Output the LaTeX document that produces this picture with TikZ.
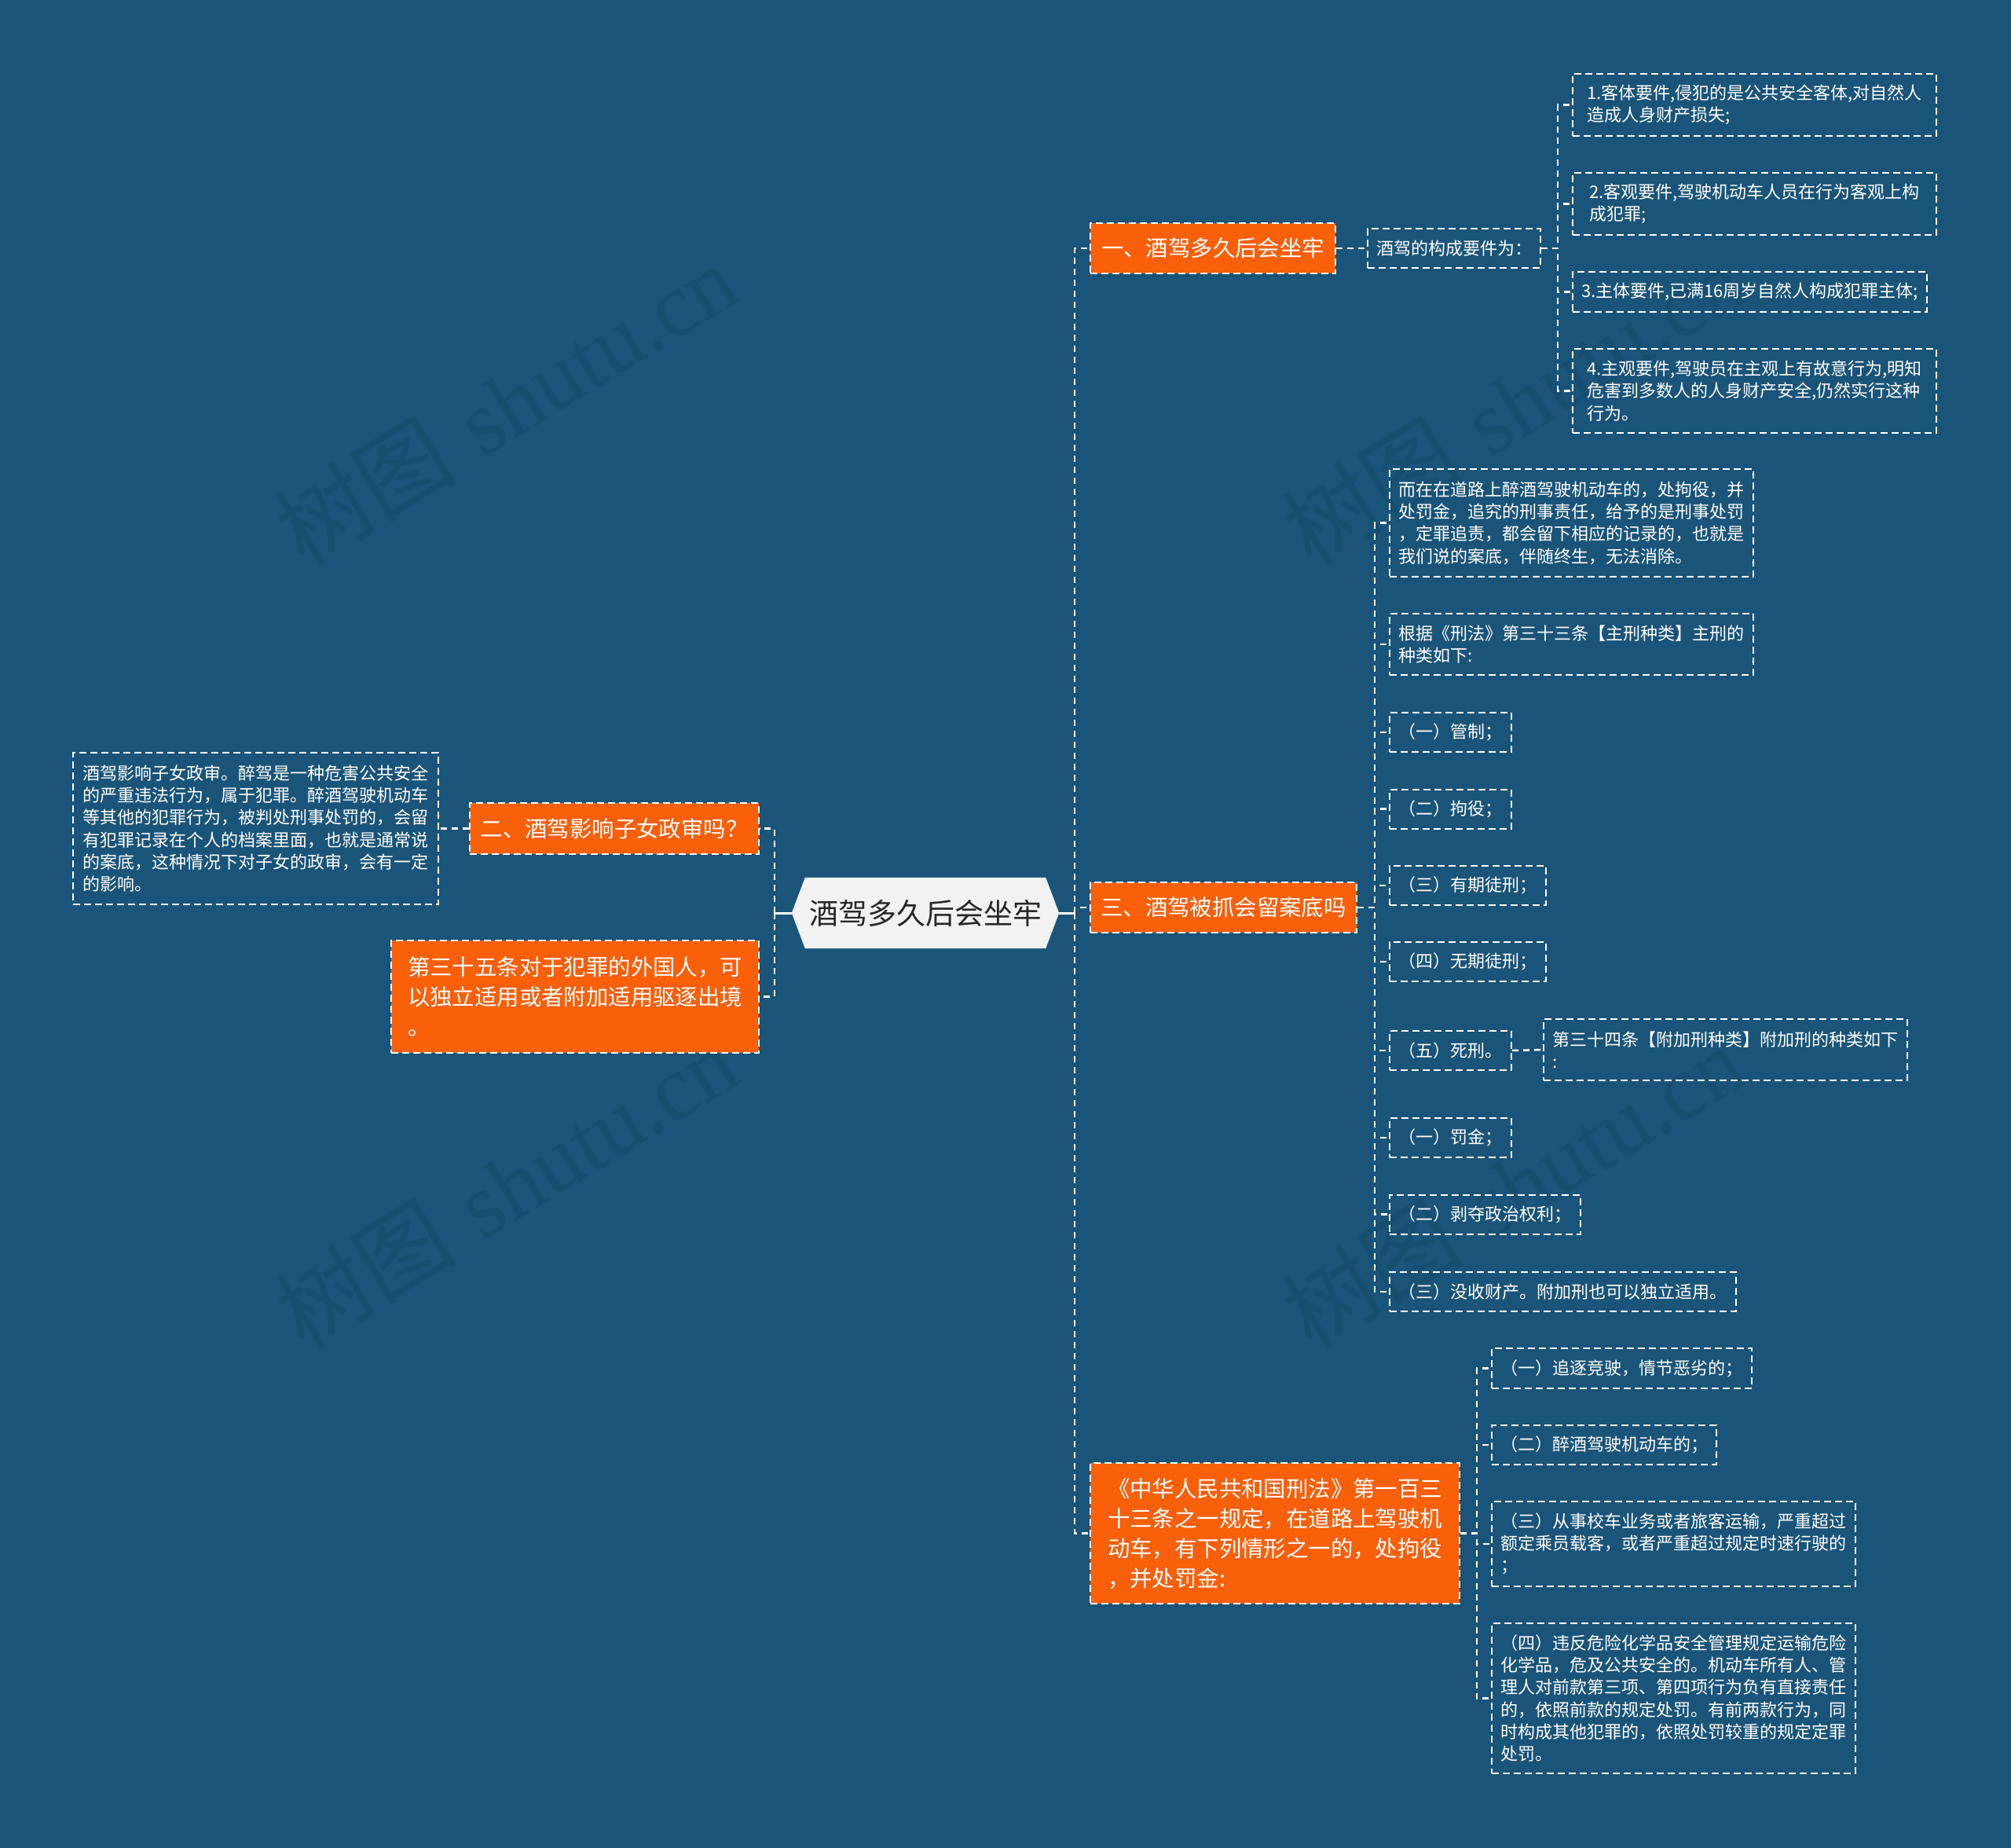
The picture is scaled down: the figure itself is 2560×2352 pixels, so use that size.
\documentclass[tikz,border=0pt]{standalone}
\usepackage{fontspec}
\newfontfamily\cjk{Noto Sans CJK SC}
\newfontfamily\wmserif{Liberation Serif}
\newcommand\leaffont{\cjk\fontsize{22}{28.3}\selectfont}
\newcommand\branchfont{\cjk\fontsize{28.4}{38}\selectfont}
\newcommand\rootfont{\cjk\fontsize{37}{44}\selectfont}
\newcommand\wmfont{\fontsize{116}{120}\selectfont}
\definecolor{bgc}{RGB}{26,84,120}
\definecolor{orc}{RGB}{250,95,10}
\definecolor{hexc}{RGB}{242,242,242}
\definecolor{roottext}{RGB}{38,38,38}
\definecolor{wmc}{RGB}{23,79,113}
\pgfdeclarelayer{bg}
\pgfsetlayers{bg,main}
\tikzset{
  box/.style={draw=white, line width=2pt, dash pattern=on 9pt off 5pt, align=left, inner sep=0pt},
  leafbox/.style={box, text=white, font=\leaffont},
  orangebox/.style={box, fill=orc, text=white, font=\branchfont},
  rootnode/.style={minimum width=340pt, minimum height=90pt, inner sep=0pt, font=\rootfont, text=roottext},
  conn/.style={draw=white, line width=2.5pt, dash pattern=on 8pt off 6pt},
  rootline/.style={draw=white, line width=3pt},
  wm/.style={rotate=31.5, text=wmc, font=\wmfont, inner sep=0pt}
}
\begin{document}
\begin{tikzpicture}[x=1pt, y=-1pt]
\useasboundingbox (0,0) rectangle (2560,2352);
\clip (0,0) rectangle (2560,2352);
\begin{pgfonlayer}{bg}
  \fill[bgc] (0,0) rectangle (2560,2352);
  \node[wm] (wm1) at (644,514) {{\cjk 树图} {\wmserif shutu.cn}};
  \node[wm] (wm2) at (1926,514) {{\cjk 树图} {\wmserif shutu.cn}};
  \node[wm] (wm3) at (644,1510) {{\cjk 树图} {\wmserif shutu.cn}};
  \node[wm] (wm4) at (1926,1510) {{\cjk 树图} {\wmserif shutu.cn}};
\end{pgfonlayer}

% root
\node[rootnode] (root) at (1178,1162) {酒驾多久后会坐牢};
\begin{pgfonlayer}{bg}
  \fill[hexc] (root.west) -- ([xshift=17pt]root.north west) -- ([xshift=-17pt]root.north east)
    -- (root.east) -- ([xshift=-17pt]root.south east) -- ([xshift=17pt]root.south west) -- cycle;
\end{pgfonlayer}

% branch 1
\node[orangebox, minimum width=312pt, minimum height=64pt] (b1) at (1544,316) {一、酒驾多久后会坐牢};
\node[leafbox, minimum width=220pt, minimum height=50pt] (b1a) at (1851,316) {酒驾的构成要件为：};
\node[leafbox, minimum width=463pt, minimum height=79pt] (l1) at (2233.5,133.5) {1.客体要件,侵犯的是公共安全客体,对自然人\\造成人身财产损失;};
\node[leafbox, minimum width=463pt, minimum height=79pt] (l2) at (2233.5,259.5) {2.客观要件,驾驶机动车人员在行为客观上构\\成犯罪;};
\node[leafbox, minimum width=451pt, minimum height=51pt] (l3) at (2227.5,371.5) {3.主体要件,已满16周岁自然人构成犯罪主体;};
\node[leafbox, minimum width=463pt, minimum height=107pt] (l4) at (2233.5,497.5) {4.主观要件,驾驶员在主观上有故意行为,明知\\危害到多数人的人身财产安全,仍然实行这种\\行为。};

% branch 3
\node[orangebox, minimum width=339pt, minimum height=64pt] (b3) at (1557.5,1155) {三、酒驾被抓会留案底吗};
\node[leafbox, minimum width=463pt, minimum height=137pt] (m1) at (2000.5,665.5) {而在在道路上醉酒驾驶机动车的，处拘役，并\\处罚金，追究的刑事责任，给予的是刑事处罚\\，定罪追责，都会留下相应的记录的，也就是\\我们说的案底，伴随终生，无法消除。};
\node[leafbox, minimum width=463pt, minimum height=78pt] (m2) at (2000.5,820) {根据《刑法》第三十三条【主刑种类】主刑的\\种类如下:};
\node[leafbox, minimum width=155pt, minimum height=50pt] (m3) at (1846.5,932) {（一）管制；};
\node[leafbox, minimum width=155pt, minimum height=50pt] (m4) at (1846.5,1029.5) {（二）拘役；};
\node[leafbox, minimum width=199pt, minimum height=50pt] (m5) at (1868.5,1127) {（三）有期徒刑；};
\node[leafbox, minimum width=199pt, minimum height=50pt] (m6) at (1868.5,1224) {（四）无期徒刑；};
\node[leafbox, minimum width=155pt, minimum height=50pt] (m7) at (1846.5,1337) {（五）死刑。};
\node[leafbox, minimum width=463pt, minimum height=78pt] (m7a) at (2196.5,1336) {第三十四条【附加刑种类】附加刑的种类如下\\:};
\node[leafbox, minimum width=155pt, minimum height=50pt] (m8) at (1846.5,1448) {（一）罚金；};
\node[leafbox, minimum width=243pt, minimum height=50pt] (m9) at (1890.5,1545.5) {（二）剥夺政治权利；};
\node[leafbox, minimum width=441pt, minimum height=50pt] (m10) at (1989.5,1644) {（三）没收财产。附加刑也可以独立适用。};

% branch 4
\node[orangebox, minimum width=470pt, minimum height=179pt] (b4) at (1623,1951.5) {《中华人民共和国刑法》第一百三\\十三条之一规定，在道路上驾驶机\\动车，有下列情形之一的，处拘役\\，并处罚金:};
\node[leafbox, minimum width=331pt, minimum height=51pt] (n1) at (2064.5,1741.5) {（一）追逐竞驶，情节恶劣的；};
\node[leafbox, minimum width=286pt, minimum height=50pt] (n2) at (2042,1839) {（二）醉酒驾驶机动车的；};
\node[leafbox, minimum width=463pt, minimum height=108pt] (n3) at (2130.5,1965) {（三）从事校车业务或者旅客运输，严重超过\\额定乘员载客，或者严重超过规定时速行驶的\\；};
\node[leafbox, minimum width=463pt, minimum height=191pt] (n4) at (2130.5,2161.5) {（四）违反危险化学品安全管理规定运输危险\\化学品，危及公共安全的。机动车所有人、管\\理人对前款第三项、第四项行为负有直接责任\\的，依照前款的规定处罚。有前两款行为，同\\时构成其他犯罪的，依照处罚较重的规定定罪\\处罚。};

% left side
\node[orangebox, minimum width=368pt, minimum height=65pt] (b2) at (782,1054.5) {二、酒驾影响子女政审吗？};
\node[leafbox, minimum width=465pt, minimum height=193pt] (b2a) at (325.5,1054.5) {酒驾影响子女政审。醉驾是一种危害公共安全\\的严重违法行为，属于犯罪。醉酒驾驶机动车\\等其他的犯罪行为，被判处刑事处罚的，会留\\有犯罪记录在个人的档案里面，也就是通常说\\的案底，这种情况下对子女的政审，会有一定\\的影响。};
\node[orangebox, minimum width=468pt, minimum height=143pt] (b5) at (732,1268.5) {第三十五条对于犯罪的外国人，可\\以独立适用或者附加适用驱逐出境\\。};

% connectors
\draw[rootline] (root.east) -- ++(20,0) coordinate (jR);
\draw[rootline] (root.west) -- ++(-22,0) coordinate (jL);
\draw[conn] (jR) |- (b1.west);
\draw[conn] (jR) |- (b3.west);
\draw[conn] (jR) |- (b4.west);
\draw[conn] (jL) |- (b2.east);
\draw[conn] (jL) |- (b5.east);
\draw[conn] (b2.west) -- (b2a.east);
\draw[conn] (b1.east) -- (b1a.west);
\foreach \t in {l1,l2,l3,l4} \draw[conn] (b1a.east) -- ++(21,0) |- (\t.west);
\foreach \t in {m1,m2,m3,m4,m5,m6,m7,m8,m9,m10} \draw[conn] (b3.east) -- ++(22,0) |- (\t.west);
\draw[conn] (m7.east) -- (m7a.west);
\foreach \t in {n1,n2,n3,n4} \draw[conn] (b4.east) -- ++(21,0) |- (\t.west);
\end{tikzpicture}
\end{document}
